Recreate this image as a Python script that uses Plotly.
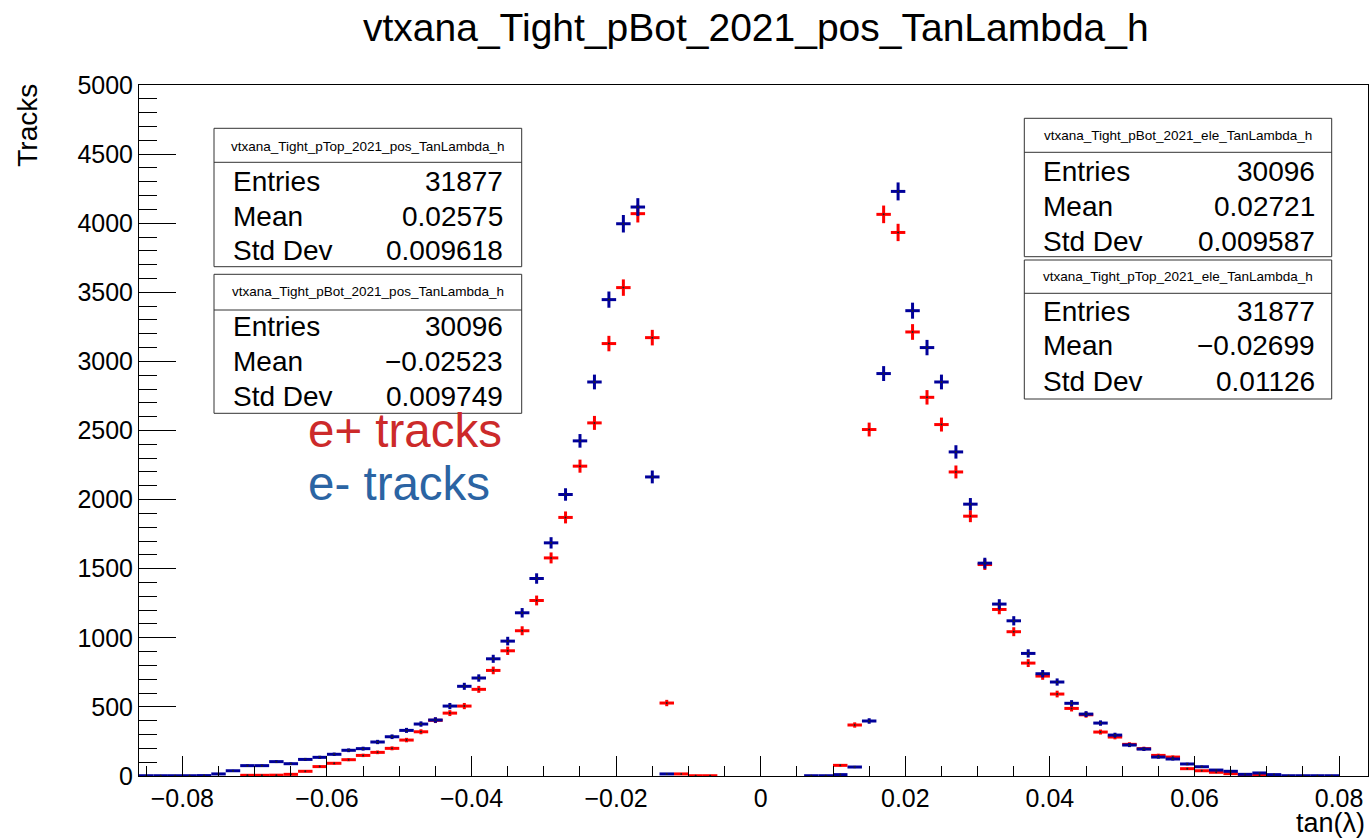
import numpy as np
import plotly.graph_objects as go

# ---------------- data ----------------
BIN_WIDTH = 0.002

# e- pTop (blue, negative side): bin centres -0.085 ... -0.013
ele_top_start = -0.085
ele_top_vals = [2, 2, 2, 2, 3, 15, 38, 75, 75, 104, 89, 120, 135, 157, 186, 198,
                246, 284, 330, 376, 405, 506, 649, 709, 848, 976, 1181, 1429,
                1687, 2037, 2425, 2851, 3447, 3996, 4117, 2164, 15]

# e+ pBot (red, negative side): bin centres -0.071 ... -0.007
pos_bot_start = -0.071
pos_bot_vals = [5, 5, 6, 12, 34, 68, 92, 118, 149, 171, 200, 260, 320, 403, 455,
                506, 627, 764, 906, 1051, 1270, 1578, 1871, 2242, 2555, 3129,
                3534, 4069, 3172, 528, 15, 2, 2]

# e+ pTop (red, positive side): bin centres 0.011 ... 0.069
pos_top_start = 0.011
pos_top_vals = [77, 369, 2507, 4064, 3933, 3213, 2740, 2543, 2200, 1880, 1530,
                1205, 1044, 817, 723, 593, 489, 443, 318, 282, 229, 198, 149,
                137, 53, 38, 27, 17, 5, 7]

# e- pBot (blue, positive side): bin centres 0.007 ... 0.079
ele_bot_start = 0.007
ele_bot_vals = [2, 2, 10, 65, 398, 2912, 4230, 3367, 3100, 2851, 2345, 1967,
                1540, 1244, 1123, 887, 740, 680, 526, 448, 383, 296, 224, 195,
                137, 123, 87, 67, 43, 34, 12, 22, 10, 2, 2, 2, 2]

stats = [
    dict(name="vtxana_Tight_pTop_2021_pos_TanLambda_h", entries="31877", mean="0.02575", std="0.009618"),
    dict(name="vtxana_Tight_pBot_2021_pos_TanLambda_h", entries="30096", mean="\u22120.02523", std="0.009749"),
    dict(name="vtxana_Tight_pBot_2021_ele_TanLambda_h", entries="30096", mean="0.02721", std="0.009587"),
    dict(name="vtxana_Tight_pTop_2021_ele_TanLambda_h", entries="31877", mean="\u22120.02699", std="0.01126"),
]

TITLE = "vtxana_Tight_pBot_2021_pos_TanLambda_h"
RED = "#ff0000"
BLUE = "#00009a"

# ---------------- layout geometry (pixels) ----------------
W, H = 1372, 839
ML, MR, MT, MB = 139, 4, 85, 63
PW, PH = W - ML - MR, H - MT - MB
FONT = "Liberation Sans, Arial, Helvetica, sans-serif"


def px(xp):
    return (xp - ML) / PW


def py(yp):
    return (H - MB - yp) / PH


def centres(start, n):
    return [round(start + BIN_WIDTH * i, 4) for i in range(n)]


fig = go.Figure()


def add_hist(start, vals, color):
    x = centres(start, len(vals))
    y = np.array(vals, dtype=float)
    fig.add_trace(go.Scatter(
        x=x, y=y, mode="markers",
        marker=dict(size=2, color="#222222"),
        error_x=dict(type="constant", value=BIN_WIDTH / 2, width=0, thickness=3, color=color),
        error_y=dict(type="data", array=np.sqrt(y), width=0, thickness=3, color=color),
        showlegend=False, hoverinfo="x+y",
    ))


add_hist(pos_bot_start, pos_bot_vals, RED)
add_hist(pos_top_start, pos_top_vals, RED)
add_hist(ele_bot_start, ele_bot_vals, BLUE)
add_hist(ele_top_start, ele_top_vals, BLUE)

shapes = []
annotations = []

# stat boxes: (left, right, top, sep, bottom, title_y, rows_y, label_x, value_x)
boxes = [
    (214, 521.7, 128.3, 162.3, 266.7, 146.0, (181.7, 216.0, 250.0), 230.7, 505.0),
    (214, 521.7, 274.3, 310.0, 413.3, 291.5, (326.7, 361.7, 396.7), 230.7, 505.0),
    (1024.3, 1331.7, 118.3, 152.3, 256.7, 135.5, (171.7, 206.7, 241.7), 1041.0, 1316.7),
    (1024.3, 1331.7, 260.0, 293.3, 399.0, 276.5, (311.7, 345.5, 381.0), 1041.0, 1316.7),
]
for st, (l, r, t, s, b, ty, rows, lx, vx) in zip(stats, boxes):
    shapes.append(dict(type="rect", xref="paper", yref="paper", x0=px(l), x1=px(r),
                       y0=py(b), y1=py(t), line=dict(color="#333333", width=1),
                       fillcolor="white", layer="above"))
    shapes.append(dict(type="line", xref="paper", yref="paper", x0=px(l), x1=px(r),
                       y0=py(s), y1=py(s), line=dict(color="#333333", width=1), layer="above"))
    annotations.append(dict(text=st["name"], xref="paper", yref="paper", x=px((l + r) / 2), y=py(ty),
                            xanchor="center", yanchor="middle", showarrow=False,
                            font=dict(family=FONT, size=13.5, color="black")))
    for lab, key, yy in zip(["Entries", "Mean", "Std Dev"], ["entries", "mean", "std"], rows):
        annotations.append(dict(text=lab, xref="paper", yref="paper", x=px(lx), y=py(yy),
                                xanchor="left", yanchor="middle", showarrow=False,
                                font=dict(family=FONT, size=28, color="black")))
        annotations.append(dict(text=st[key], xref="paper", yref="paper", x=px(vx), y=py(yy),
                                xanchor="right", yanchor="middle", showarrow=False,
                                font=dict(family=FONT, size=28, color="black")))

# legend texts
annotations.append(dict(text="e+ tracks", xref="paper", yref="paper", x=px(306), y=py(430),
                        xanchor="left", yanchor="middle", showarrow=False,
                        font=dict(family=FONT, size=47.5, color="#cc2a2a")))
annotations.append(dict(text="e- tracks", xref="paper", yref="paper", x=px(306), y=py(484),
                        xanchor="left", yanchor="middle", showarrow=False,
                        font=dict(family=FONT, size=47.5, color="#2b64a3")))

# title and axis titles
annotations.append(dict(text=TITLE, xref="paper", yref="paper", x=px(755.5), y=py(28),
                        xanchor="center", yanchor="middle", showarrow=False,
                        font=dict(family=FONT, size=39, color="black")))
annotations.append(dict(text="Tracks", xref="paper", yref="paper", x=px(26.7), y=py(125),
                        xanchor="center", yanchor="middle", showarrow=False, textangle=-90,
                        font=dict(family=FONT, size=28, color="black")))
annotations.append(dict(text="tan(\u03bb)", xref="paper", yref="paper", x=px(1367), y=py(823),
                        xanchor="right", yanchor="middle", showarrow=False,
                        font=dict(family=FONT, size=27, color="black")))

fig.update_layout(
    width=W, height=H,
    margin=dict(l=ML, r=MR, t=MT, b=MB, pad=0),
    paper_bgcolor="white", plot_bgcolor="white",
    font=dict(family=FONT, color="black"),
    shapes=shapes, annotations=annotations,
    xaxis=dict(range=[-0.086, 0.084], showgrid=False, zeroline=False,
               showline=True, linecolor="black", linewidth=1, mirror=True,
               ticks="inside", ticklen=20, tickwidth=1, tickcolor="black",
               tick0=0, dtick=0.02, tickfont=dict(family=FONT, size=25),
               minor=dict(ticks="inside", ticklen=10, tickwidth=1, tickcolor="black",
                          tick0=0, dtick=0.005, showgrid=False)),
    yaxis=dict(range=[0, 5000], showgrid=False, zeroline=False,
               showline=True, linecolor="black", linewidth=1, mirror=True,
               ticks="inside", ticklen=37, tickwidth=1, tickcolor="black",
               tick0=0, dtick=500, tickfont=dict(family=FONT, size=25),
               minor=dict(ticks="inside", ticklen=18, tickwidth=1, tickcolor="black",
                          tick0=0, dtick=100, showgrid=False)),
)

fig.write_html("out.html")
